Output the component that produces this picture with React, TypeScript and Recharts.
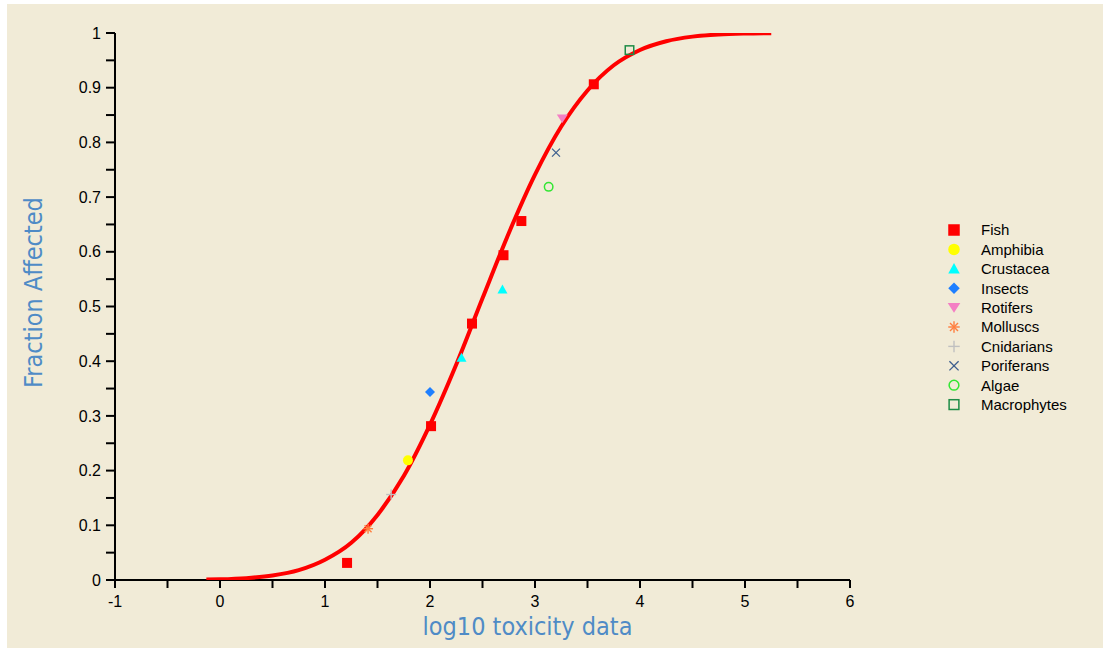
import React from 'react';
import { ScatterChart, Scatter, XAxis, YAxis, Legend } from 'recharts';

// ---- data ----
const xTicks = [-1, -0.5, 0, 0.5, 1, 1.5, 2, 2.5, 3, 3.5, 4, 4.5, 5, 5.5, 6];
const yTicks = [0, 0.05, 0.1, 0.15, 0.2, 0.25, 0.3, 0.35, 0.4, 0.45, 0.5, 0.55, 0.6, 0.65, 0.7, 0.75, 0.8, 0.85, 0.9, 0.95, 1];
const xTickLabels = ['-1', '0', '1', '2', '3', '4', '5', '6'];
const yTickLabels = ['0', '0.1', '0.2', '0.3', '0.4', '0.5', '0.6', '0.7', '0.8', '0.9', '1'];

// fitted curve
const curveX = [-0.13, 0, 0.25, 0.5, 0.75, 1.0, 1.25, 1.5, 1.75, 2.0, 2.25, 2.5, 2.75, 3.0, 3.25, 3.5, 3.75, 4.0, 4.25, 4.5, 4.75, 5.0, 5.25];
const curveY = [0.0008, 0.0013, 0.0034, 0.0082, 0.018, 0.037, 0.068, 0.119, 0.19, 0.284, 0.394, 0.515, 0.634, 0.741, 0.829, 0.895, 0.941, 0.969, 0.985, 0.9934, 0.9973, 0.999, 0.9997];

const fish = [
  { x: 1.21, y: 0.03125 },
  { x: 2.01, y: 0.28125 },
  { x: 2.4, y: 0.46875 },
  { x: 2.7, y: 0.59375 },
  { x: 2.87, y: 0.65625 },
  { x: 3.56, y: 0.90625 },
];
const amphibia = [{ x: 1.79, y: 0.21875 }];
const crustacea = [
  { x: 2.3, y: 0.40625 },
  { x: 2.69, y: 0.53125 },
];
const insects = [{ x: 2.0, y: 0.34375 }];
const rotifers = [{ x: 3.26, y: 0.84375 }];
const molluscs = [{ x: 1.41, y: 0.09375 }];
const cnidarians = [{ x: 1.63, y: 0.15625 }];
const poriferans = [{ x: 3.2, y: 0.78125 }];
const algae = [{ x: 3.13, y: 0.71875 }];
const macrophytes = [{ x: 3.9, y: 0.96875 }];

const curve = curveX.map((x, i) => ({ x, y: curveY[i] }));

type Kind = 'square' | 'circle' | 'triangle' | 'diamond' | 'invtriangle' | 'asterisk' | 'plus' | 'cross' | 'ocircle' | 'osquare';

const Marker = ({ kind, color, cx, cy, s = 1 }: { kind: Kind; color: string; cx: number; cy: number; s?: number }) => {
  const r = 5 * s;
  switch (kind) {
    case 'square':
      return <rect x={cx - r} y={cy - r} width={2 * r} height={2 * r} fill={color} />;
    case 'circle':
      return <circle cx={cx} cy={cy} r={r} fill={color} />;
    case 'triangle':
      return <polygon points={`${cx},${cy - r} ${cx + r},${cy + r * 0.8} ${cx - r},${cy + r * 0.8}`} fill={color} />;
    case 'diamond':
      return <polygon points={`${cx},${cy - r} ${cx + r},${cy} ${cx},${cy + r} ${cx - r},${cy}`} fill={color} />;
    case 'invtriangle':
      return <polygon points={`${cx - r * 1.1},${cy - r * 0.8} ${cx + r * 1.1},${cy - r * 0.8} ${cx},${cy + r * 0.9}`} fill={color} />;
    case 'asterisk':
      return (
        <g stroke={color} strokeWidth={1.4}>
          <line x1={cx - r} y1={cy} x2={cx + r} y2={cy} />
          <line x1={cx} y1={cy - r} x2={cx} y2={cy + r} />
          <line x1={cx - r * 0.7} y1={cy - r * 0.7} x2={cx + r * 0.7} y2={cy + r * 0.7} />
          <line x1={cx - r * 0.7} y1={cy + r * 0.7} x2={cx + r * 0.7} y2={cy - r * 0.7} />
        </g>
      );
    case 'plus':
      return (
        <g stroke={color} strokeWidth={1.4}>
          <line x1={cx - r} y1={cy} x2={cx + r} y2={cy} />
          <line x1={cx} y1={cy - r} x2={cx} y2={cy + r} />
        </g>
      );
    case 'cross':
      return (
        <g stroke={color} strokeWidth={1.3}>
          <line x1={cx - r * 0.8} y1={cy - r * 0.8} x2={cx + r * 0.8} y2={cy + r * 0.8} />
          <line x1={cx - r * 0.8} y1={cy + r * 0.8} x2={cx + r * 0.8} y2={cy - r * 0.8} />
        </g>
      );
    case 'ocircle':
      return <circle cx={cx} cy={cy} r={r * 0.85} fill="none" stroke={color} strokeWidth={1.5} />;
    case 'osquare':
      return <rect x={cx - r * 0.85} y={cy - r * 0.85} width={r * 1.7} height={r * 1.7} fill="none" stroke={color} strokeWidth={1.5} />;
  }
  return null;
};

const seriesList: { name: string; data: { x: number; y: number }[]; kind: Kind; color: string }[] = [
  { name: 'Fish', data: fish, kind: 'square', color: '#FF0000' },
  { name: 'Amphibia', data: amphibia, kind: 'circle', color: '#FFFF00' },
  { name: 'Crustacea', data: crustacea, kind: 'triangle', color: '#00FFFF' },
  { name: 'Insects', data: insects, kind: 'diamond', color: '#1E7FFF' },
  { name: 'Rotifers', data: rotifers, kind: 'invtriangle', color: '#F47FC4' },
  { name: 'Molluscs', data: molluscs, kind: 'asterisk', color: '#FF7F40' },
  { name: 'Cnidarians', data: cnidarians, kind: 'plus', color: '#C0C0C0' },
  { name: 'Poriferans', data: poriferans, kind: 'cross', color: '#3C5E8E' },
  { name: 'Algae', data: algae, kind: 'ocircle', color: '#33E633' },
  { name: 'Macrophytes', data: macrophytes, kind: 'osquare', color: '#1E8C46' },
];

const tickFont = '"Liberation Sans", Arial, sans-serif';
const titleFont = '"DejaVu Sans Condensed", "DejaVu Sans", sans-serif';
const titleColor = '#4F8BC6';

const XTick = (props: any) => {
  const { x, y, payload } = props;
  const label = String(payload.value);
  if (!xTickLabels.includes(label)) return <g />;
  return (
    <text x={x} y={y} dy="0.71em" textAnchor="middle" fontFamily={tickFont} fontSize={16} fill="#000">
      {label}
    </text>
  );
};

const YTick = (props: any) => {
  const { x, y, payload } = props;
  const label = String(Math.round(payload.value * 100) / 100);
  if (!yTickLabels.includes(label)) return <g />;
  return (
    <text x={x} y={y} dy="0.355em" textAnchor="end" fontFamily={tickFont} fontSize={16} fill="#000">
      {label}
    </text>
  );
};

const LegendContent = () => (
  <svg width={170} height={200}>
    {seriesList.map((s, i) => (
      <g key={s.name}>
        <Marker kind={s.kind} color={s.color} cx={14} cy={10 + i * 19.4} s={1.15} />
        <text x={41} y={10 + i * 19.4} dy="0.36em" fontFamily={tickFont} fontSize={15} fill="#000">
          {s.name}
        </text>
      </g>
    ))}
  </svg>
);

export default function App() {
  return (
    <div style={{ position: 'absolute', left: 0, top: 0, width: 1103, height: 648, background: '#FFFFFF' }}>
      <div style={{ position: 'absolute', left: 7, top: 4, width: 1096, height: 644, background: '#F1EBD7' }} />
      <div style={{ position: 'absolute', left: 0, top: 0 }}>
        <ScatterChart width={1103} height={648} margin={{ top: 33, right: 253, bottom: 0, left: 0 }}>
          <XAxis
            type="number"
            dataKey="x"
            domain={[-1, 6]}
            ticks={xTicks}
            interval={0}
            allowDataOverflow
            height={68}
            tickSize={8}
            tickMargin={8}
            tick={<XTick />}
            axisLine={{ stroke: '#000', strokeWidth: 2 }}
            tickLine={{ stroke: '#000', strokeWidth: 2 }}
            label={{
              content: () => (
                <text x={527.5} y={635} textAnchor="middle" fontFamily={titleFont} fontSize={25} fill={titleColor}>
                  log10 toxicity data
                </text>
              ),
            }}
          />
          <YAxis
            type="number"
            dataKey="y"
            domain={[0, 1]}
            ticks={yTicks}
            interval={0}
            allowDataOverflow
            width={115}
            tickSize={9}
            tickMargin={5}
            tick={<YTick />}
            axisLine={{ stroke: '#000', strokeWidth: 2 }}
            tickLine={{ stroke: '#000', strokeWidth: 2 }}
            label={{
              content: () => (
                <text x={0} y={0} transform="translate(42 292.5) rotate(-90)" textAnchor="middle" fontFamily={titleFont} fontSize={25} fill={titleColor}>
                  Fraction Affected
                </text>
              ),
            }}
          />
          <Legend layout="vertical" align="center" verticalAlign="middle" content={<LegendContent />} wrapperStyle={{ position: 'absolute', left: 940, top: 220, width: 170, height: 200 }} />
          <Scatter
            name="curve"
            data={curve}
            line={{ stroke: '#FF0000', strokeWidth: 4 }}
            lineJointType="monotoneX"
            shape={() => <g />}
            legendType="none"
            isAnimationActive={false}
          />
          {seriesList.map((s) => (
            <Scatter
              key={s.name}
              name={s.name}
              data={s.data}
              fill={s.color}
              isAnimationActive={false}
              shape={(p: any) => <Marker kind={s.kind} color={s.color} cx={p.cx} cy={p.cy} />}
            />
          ))}
        </ScatterChart>
      </div>
    </div>
  );
}
